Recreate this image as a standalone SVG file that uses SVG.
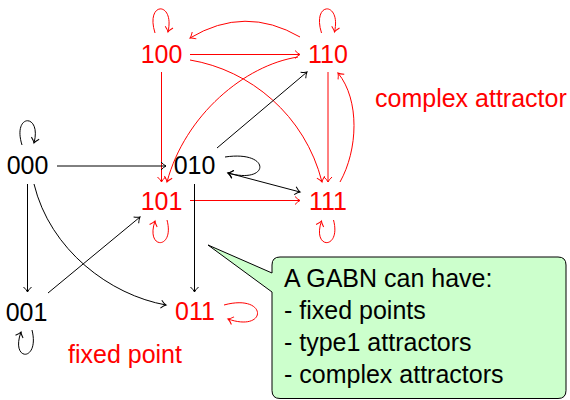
<svg xmlns="http://www.w3.org/2000/svg" width="570" height="400" viewBox="0 0 570 400">
<defs>
<marker id="ab" markerUnits="userSpaceOnUse" markerWidth="12" markerHeight="12" viewBox="-6 -6 12 12" refX="0" refY="0" orient="auto" overflow="visible">
<path d="M-5,-4 Q-2,-0.8 0,0 Q-2,0.8 -5,4" fill="none" stroke="#000" stroke-width="1"/>
</marker>
<marker id="ar" markerUnits="userSpaceOnUse" markerWidth="12" markerHeight="12" viewBox="-6 -6 12 12" refX="0" refY="0" orient="auto" overflow="visible">
<path d="M-5,-4 Q-2,-0.8 0,0 Q-2,0.8 -5,4" fill="none" stroke="#f00" stroke-width="1"/>
</marker>
<marker id="abs" markerUnits="userSpaceOnUse" markerWidth="12" markerHeight="12" viewBox="-6 -6 12 12" refX="0" refY="0" orient="auto-start-reverse" overflow="visible">
<path d="M-5,-4 Q-2,-0.8 0,0 Q-2,0.8 -5,4" fill="none" stroke="#000" stroke-width="1"/>
</marker>
</defs>
<style>
text{font-family:"Liberation Sans",Arial,sans-serif;font-size:25px}
.n{text-anchor:middle}
.r{fill:#f00}
.k{fill:#000}
.eb{fill:none;stroke:#000;stroke-width:1;marker-end:url(#ab)}
.er{fill:none;stroke:#f00;stroke-width:1;marker-end:url(#ar)}
</style>
<g id="connectors">
<path class="er" d="M190 54.5 L300 54.5"/>
<path class="er" d="M300 37 Q245 5 190 38"/>
<path class="er" d="M190 60 C250 70 305 115 322 182"/>
<path class="er" d="M328 72 L328 182"/>
<path class="er" d="M340 182 C358 150 360 100 338 73"/>
<path class="er" d="M161.5 72 L161.5 182"/>
<path class="er" d="M298 57 C245 65 185 115 167 182"/>
<path class="er" d="M190 200.5 L300 200.5"/>
<path class="er" d="M167 220 C175 250 145 250 155 221"/>
<path class="er" d="M333.5 220 C341.5 250 311.5 250 321.5 221"/>
<path class="er" d="M155 33 C145 1 175 1 168 32"/>
<path class="er" d="M321.5 33 C311.5 1 341.5 1 334.5 32"/>
<path class="er" d="M224 305 C268 293 268 333 228 319"/>
<path class="eb" d="M22 145 C12 113 42 113 34 143"/>
<path class="eb" d="M57 166 L166 166"/>
<path class="eb" d="M27.5 184 L27.5 292"/>
<path class="eb" d="M34 184 C50 250 110 295 166 305"/>
<path class="eb" d="M48 293 L140 217"/>
<path class="eb" d="M32 330 C40 362 10 362 21 332"/>
<path class="eb" d="M217 148 L307 72"/>
<path class="eb" d="M225 157 C272 150 270 185 228 173"/>
<path class="eb" d="M228 173 L300 192" marker-start="url(#abs)"/>
<path class="eb" d="M194.5 184 L194.5 292"/>
</g>
<g id="n100"><text class="n r" x="161.5" y="63">100</text></g>
<g id="n110"><text class="n r" x="328" y="63">110</text></g>
<g id="n000"><text class="n k" x="27.5" y="174">000</text></g>
<g id="n010"><text class="n k" x="194.5" y="174">010</text></g>
<g id="n101"><text class="n r" x="161.5" y="210">101</text></g>
<g id="n111"><text class="n r" x="328" y="210">111</text></g>
<g id="n001"><text class="n k" x="26.5" y="321">001</text></g>
<g id="n011"><text class="n r" x="195" y="320">011</text></g>
<g id="lbl-complex"><text class="r" x="375" y="107">complex attractor</text></g>
<g id="lbl-fixed"><text class="r" x="68" y="363">fixed point</text></g>
<g id="callout">
<path d="M280 257 H558 Q566 257 566 265 V390.5 Q566 398.5 558 398.5 H280 Q272 398.5 272 390.5 V292 L208 245 L272 273 V265 Q272 257 280 257 Z" fill="#ccffcc" stroke="#000" stroke-width="1"/>
<text class="k" x="284" y="287">A GABN can have:</text>
<text class="k" x="284" y="319">- fixed points</text>
<text class="k" x="284" y="351">- type1 attractors</text>
<text class="k" x="284" y="383">- complex attractors</text>
</g>
</svg>
